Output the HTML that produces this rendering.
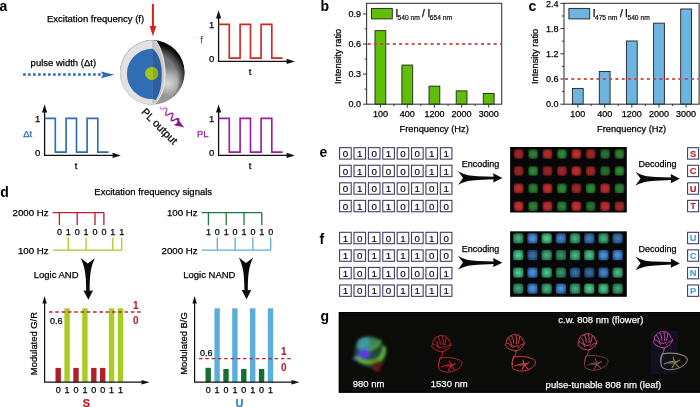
<!DOCTYPE html>
<html><head><meta charset="utf-8">
<style>
html,body{margin:0;padding:0;background:#fff;}
body{width:700px;height:407px;overflow:hidden;}
svg{display:block;will-change:transform;}
text{font-family:"Liberation Sans",sans-serif;fill:#000;stroke:#000;stroke-width:0.25px;}
.lbl{font-size:14px;font-weight:bold;fill:#000;stroke:none;}
.t9{font-size:9px;}
.t93{font-size:9.3px;}
.t94{font-size:9.4px;}
.t95{font-size:9.5px;}
.t96{font-size:9.7px;}
.t105{font-size:10.8px;}
.t11{font-size:11.5px;}
.sub{font-size:8px;stroke-width:0.2px;}
.t10r{font-size:10px;}
.tbx{font-size:9.8px;stroke-width:0.15px;}
.t10{font-size:10px;font-weight:bold;stroke-width:0.05px;}
.t10b{font-size:10px;font-weight:bold;}
.t9b{font-size:9.4px;font-weight:bold;stroke-width:0.15px;}
.t11b{font-size:11px;font-weight:bold;}
.tw{font-size:9.5px;fill:#f4f4f4;stroke:#f4f4f4;}
.bx{fill:#fff;stroke:#36365f;stroke-width:1.05;}
</style></head>
<body>
<svg width="700" height="407" viewBox="0 0 700 407">
<defs>
<filter id="blur1" x="-5%" y="-5%" width="110%" height="110%"><feGaussianBlur stdDeviation="0.7"/></filter>
<radialGradient id="gR"><stop offset="0" stop-color="#c43232"/><stop offset="0.7" stop-color="#b02a2a"/><stop offset="1" stop-color="#801c1c"/></radialGradient>
<radialGradient id="gG"><stop offset="0" stop-color="#389c40"/><stop offset="0.7" stop-color="#2a8432"/><stop offset="1" stop-color="#1a5c20"/></radialGradient>
<radialGradient id="gG2"><stop offset="0" stop-color="#5ccca4"/><stop offset="0.65" stop-color="#3aaa74"/><stop offset="1" stop-color="#247a50"/></radialGradient>
<radialGradient id="gB"><stop offset="0" stop-color="#5898d8"/><stop offset="0.65" stop-color="#3a78be"/><stop offset="1" stop-color="#22528a"/></radialGradient>
<filter id="blur2" x="-40%" y="-40%" width="180%" height="180%"><feGaussianBlur stdDeviation="1.4"/></filter>
<filter id="blur3" x="-20%" y="-20%" width="140%" height="140%"><feGaussianBlur stdDeviation="0.35"/></filter>
</defs>
<rect width="700" height="407" fill="#fff"/>
<text class="lbl" x="-0.6" y="10.7">a</text>
<text class="t95" x="47" y="22.3">Excitation frequency (f)</text>
<rect x="151.9" y="3.9" width="2" height="23" fill="#d42218"/>
<polygon points="149.6,26.1 156.3,26.1 152.9,36.3" fill="#d42218"/>
<text class="t95" x="30.6" y="66.3">pulse width (&#916;t)</text>
<line x1="23.1" y1="74.5" x2="101.5" y2="74.5" stroke="#2a6bb5" stroke-width="2.3" stroke-dasharray="2.6 2.4"/>
<path d="M100.8,71.4 L114.4,74.8 L100.8,78.2 L103,74.8 Z" fill="#2a6bb5"/>
<defs>
<clipPath id="sclip"><circle cx="152.3" cy="72.5" r="32.3"/></clipPath>
<radialGradient id="shl" gradientUnits="userSpaceOnUse" cx="169" cy="82" r="17" fx="168" fy="84">
<stop offset="0" stop-color="#dadada" stop-opacity="1"/><stop offset="0.5" stop-color="#bcbcbc" stop-opacity="0.8"/><stop offset="1" stop-color="#999" stop-opacity="0"/></radialGradient>
<linearGradient id="sbase" gradientUnits="userSpaceOnUse" x1="0" y1="40" x2="0" y2="105"><stop offset="0" stop-color="#5a5a5a"/><stop offset="0.5" stop-color="#808080"/><stop offset="1" stop-color="#9c9c9c"/></linearGradient>
<radialGradient id="srim" gradientUnits="userSpaceOnUse" cx="150" cy="80" r="37">
<stop offset="0.74" stop-color="#000" stop-opacity="0"/><stop offset="0.9" stop-color="#000" stop-opacity="0.5"/><stop offset="1" stop-color="#000" stop-opacity="0.92"/></radialGradient>
</defs>
<g clip-path="url(#sclip)">
<rect x="118" y="38" width="70" height="70" fill="url(#sbase)"/>
<rect x="118" y="38" width="70" height="70" fill="url(#shl)"/>
<rect x="118" y="38" width="70" height="70" fill="url(#srim)"/>
<path d="M152.9,38 L155.6,40.3 C160,46 164.6,58 165,72 C165.2,86 162.4,97 153.6,105 L152.9,106 Z" fill="#c9c9c9"/>
<path d="M155.6,40.3 C160,46 164.6,58 165,72 C165.2,86 162.4,97 153.6,105" fill="none" stroke="#f2f2f2" stroke-width="1"/>
<rect x="118" y="38" width="34.9" height="70" fill="#e2e2e2"/>
</g>
<path d="M152.9,40.2 A32.3,32.3 0 0 0 152.9,104.8" fill="none" stroke="#cdcdcd" stroke-width="0.8"/>
<line x1="152.9" y1="40.4" x2="152.9" y2="104.6" stroke="#bdbdbd" stroke-width="0.6"/>
<path d="M152.9,48.7 C139,48.7 127,59 127,73.9 C127,89 139,99.1 152.9,99.1 Z" fill="#2f6db5"/>
<path d="M152.6,48.7 C158.5,53 161.8,63 161.8,74 C161.8,86 159.5,95 155.5,100 L152.6,99.1 Z" fill="#2a609f"/>
<circle cx="151.6" cy="73.4" r="6.5" fill="#9fc51c"/>
<path d="M152.9,67.03 A6.5,6.5 0 0 1 152.9,79.77 Z" fill="#8db01a"/>
<path d="M44.6,111.5 V155.4 H114" fill="none" stroke="#111" stroke-width="1.3"/>
<polygon points="42,112.6 47.2,112.6 44.6,104.2" fill="#111"/>
<polygon points="112.6,152.8 112.6,158 120.9,155.4" fill="#111"/>
<path d="M44.6,118.4 L55.3,118.4 L55.3,152.1 L66.1,152.1 L66.1,118.4 L76.5,118.4 L76.5,152.1 L87.1,152.1 L87.1,118.4 L97.8,118.4 L97.8,152.1 L108.6,152.1" fill="none" stroke="#2e6db4" stroke-width="1.65"/>
<text class="t95" text-anchor="middle" x="37.6" y="122.4">1</text>
<text class="t95" text-anchor="middle" x="37.6" y="155.9">0</text>
<text class="t95" text-anchor="middle" x="76" y="168.8">t</text>
<text class="t95" text-anchor="middle" x="27.7" y="137.4" style="fill:#2e6db4;stroke:#2e6db4">&#916;t</text>
<path d="M218.6,17.5 V61.4 H288" fill="none" stroke="#111" stroke-width="1.3"/>
<polygon points="216,18.6 221.2,18.6 218.6,10.2" fill="#111"/>
<polygon points="286.6,58.8 286.6,64 294.9,61.4" fill="#111"/>
<path d="M218.6,24.4 L229.3,24.4 L229.3,58.1 L240.1,58.1 L240.1,24.4 L250.5,24.4 L250.5,58.1 L261.1,58.1 L261.1,24.4 L271.8,24.4 L271.8,58.1 L282.6,58.1" fill="none" stroke="#cc2a22" stroke-width="1.65"/>
<text class="t95" text-anchor="middle" x="211.6" y="28.4">1</text>
<text class="t95" text-anchor="middle" x="211.6" y="61.9">0</text>
<text class="t95" text-anchor="middle" x="250" y="74.8">t</text>
<text class="t95" text-anchor="middle" x="201.6" y="43.4" style="fill:#cc2a22;stroke:#cc2a22">f</text>
<path d="M218.6,111.5 V155.4 H288" fill="none" stroke="#111" stroke-width="1.3"/>
<polygon points="216,112.6 221.2,112.6 218.6,104.2" fill="#111"/>
<polygon points="286.6,152.8 286.6,158 294.9,155.4" fill="#111"/>
<path d="M218.6,118.4 L229.3,118.4 L229.3,152.1 L240.1,152.1 L240.1,118.4 L250.5,118.4 L250.5,152.1 L261.1,152.1 L261.1,118.4 L271.8,118.4 L271.8,152.1 L282.6,152.1" fill="none" stroke="#9a1fa0" stroke-width="1.65"/>
<text class="t95" text-anchor="middle" x="211.6" y="122.4">1</text>
<text class="t95" text-anchor="middle" x="211.6" y="155.9">0</text>
<text class="t95" text-anchor="middle" x="250" y="168.8">t</text>
<text class="t95" text-anchor="middle" x="202.7" y="137.4" style="fill:#9a1fa0;stroke:#9a1fa0">PL</text>
<text class="t105" transform="translate(140.7,112.6) rotate(45)" x="0" y="0">PL output</text>
<defs><linearGradient id="sqg" gradientUnits="userSpaceOnUse" x1="160" y1="106" x2="176" y2="121"><stop offset="0" stop-color="#e6b8e6"/><stop offset="0.5" stop-color="#a544a8"/><stop offset="1" stop-color="#8a1a90"/></linearGradient></defs>
<path d="M160.5,106 L160.42,106.7 L160.37,107.37 L160.38,107.98 L160.5,108.48 L160.74,108.83 L161.14,109.03 L161.68,109.08 L162.34,109 L163.09,108.82 L163.89,108.59 L164.67,108.38 L165.39,108.24 L165.99,108.23 L166.43,108.38 L166.69,108.72 L166.77,109.25 L166.69,109.95 L166.49,110.79 L166.21,111.7 L165.93,112.62 L165.7,113.47 L165.61,114.19 L165.69,114.72 L165.98,115.03 L166.48,115.12 L167.19,114.98 L168.07,114.68 L169.05,114.26 L170.04,113.83 L170.96,113.47 L171.75,113.25 L172.35,113.23 L172.73,113.45 L172.88,113.91 L172.82,114.59 L172.59,115.45 L172.25,116.43 L171.87,117.45 L171.53,118.42 L171.3,119.29 L171.24,119.97 L171.39,120.43 L171.77,120.64 L172.37,120.62 L173.16,120.41 L174.09,120.05 L175.08,119.62 L176.06,119.2 L176.96,118.87 L177.7,118.7 L178.25,118.73 L178.57,119.01 L178.67,119.53 L178.56,120.26 L178.3,121.16 L177.94,122.15 L177.56,123.17 L177.24,124.12 L177.05,124.94 L177.04,125.57" fill="none" stroke="url(#sqg)" stroke-width="1.6"/>
<path d="M177.6,118.6 L184.2,127.4 L173.4,125.0 L177.6,123.0 Z" fill="#8a1a90"/>
<text class="lbl" x="320.6" y="10.8">b</text>
<rect x="375" y="30.66" width="10.8" height="73.54" fill="#5fbf06" stroke="#222" stroke-width="0.9"/>
<rect x="401.9" y="65.07" width="10.8" height="39.13" fill="#5fbf06" stroke="#222" stroke-width="0.9"/>
<rect x="429" y="86.14" width="10.8" height="18.06" fill="#5fbf06" stroke="#222" stroke-width="0.9"/>
<rect x="456.2" y="90.86" width="10.8" height="13.34" fill="#5fbf06" stroke="#222" stroke-width="0.9"/>
<rect x="483.3" y="93.46" width="10.8" height="10.74" fill="#5fbf06" stroke="#222" stroke-width="0.9"/>
<rect x="366.6" y="3.3" width="135.1" height="100.9" fill="none" stroke="#3a3a3a" stroke-width="1.1"/>
<line x1="363" y1="104.2" x2="366.6" y2="104.2" stroke="#333" stroke-width="1"/>
<text class="t9" text-anchor="end" x="361" y="107.4">0.0</text>
<line x1="364.6" y1="89.15" x2="366.6" y2="89.15" stroke="#333" stroke-width="1"/>
<line x1="363" y1="74.1" x2="366.6" y2="74.1" stroke="#333" stroke-width="1"/>
<text class="t9" text-anchor="end" x="361" y="77.3">0.3</text>
<line x1="364.6" y1="59.05" x2="366.6" y2="59.05" stroke="#333" stroke-width="1"/>
<line x1="363" y1="44" x2="366.6" y2="44" stroke="#333" stroke-width="1"/>
<text class="t9" text-anchor="end" x="361" y="47.2">0.6</text>
<line x1="364.6" y1="28.95" x2="366.6" y2="28.95" stroke="#333" stroke-width="1"/>
<line x1="363" y1="13.9" x2="366.6" y2="13.9" stroke="#333" stroke-width="1"/>
<text class="t9" text-anchor="end" x="361" y="17.1">0.9</text>
<line x1="380.4" y1="104.2" x2="380.4" y2="107.6" stroke="#333" stroke-width="1"/>
<text class="t9" text-anchor="middle" x="380.4" y="117.3">100</text>
<line x1="393.85" y1="104.2" x2="393.85" y2="106" stroke="#333" stroke-width="1"/>
<line x1="407.3" y1="104.2" x2="407.3" y2="107.6" stroke="#333" stroke-width="1"/>
<text class="t9" text-anchor="middle" x="407.3" y="117.3">400</text>
<line x1="420.85" y1="104.2" x2="420.85" y2="106" stroke="#333" stroke-width="1"/>
<line x1="434.4" y1="104.2" x2="434.4" y2="107.6" stroke="#333" stroke-width="1"/>
<text class="t9" text-anchor="middle" x="434.4" y="117.3">1200</text>
<line x1="448" y1="104.2" x2="448" y2="106" stroke="#333" stroke-width="1"/>
<line x1="461.6" y1="104.2" x2="461.6" y2="107.6" stroke="#333" stroke-width="1"/>
<text class="t9" text-anchor="middle" x="461.6" y="117.3">2000</text>
<line x1="475.15" y1="104.2" x2="475.15" y2="106" stroke="#333" stroke-width="1"/>
<line x1="488.7" y1="104.2" x2="488.7" y2="107.6" stroke="#333" stroke-width="1"/>
<text class="t9" text-anchor="middle" x="488.7" y="117.3">3000</text>
<line x1="367.6" y1="44" x2="501.2" y2="44" stroke="#c84646" stroke-width="1.8" stroke-dasharray="3 3.3" opacity="0.9"/>
<rect x="371.5" y="8.4" width="20.8" height="10.5" fill="#5fbf06" stroke="#222" stroke-width="0.9"/>
<text class="t10r" x="395.4" y="17">I</text>
<text class="sub" transform="translate(397.5,20) scale(0.84,1)">540 nm</text>
<text class="t10r" x="422" y="17">/</text>
<text class="t10r" x="427.4" y="17">I</text>
<text class="sub" transform="translate(429.7,20) scale(0.84,1)">654 nm</text>
<text class="t93" text-anchor="middle" transform="translate(340.8,56.4) rotate(-90)" x="0" y="0">Intensity ratio</text>
<text class="t93" text-anchor="middle" x="434.2" y="132.3">Frenquency (Hz)</text>
<text class="lbl" x="528.6" y="11.1">c</text>
<rect x="572.4" y="88.41" width="10.8" height="15.79" fill="#6db4e1" stroke="#222" stroke-width="0.9"/>
<rect x="599.3" y="71.44" width="10.8" height="32.76" fill="#6db4e1" stroke="#222" stroke-width="0.9"/>
<rect x="626.4" y="40.99" width="10.8" height="63.21" fill="#6db4e1" stroke="#222" stroke-width="0.9"/>
<rect x="653.6" y="23.14" width="10.8" height="81.06" fill="#6db4e1" stroke="#222" stroke-width="0.9"/>
<rect x="680.7" y="8.99" width="10.8" height="95.21" fill="#6db4e1" stroke="#222" stroke-width="0.9"/>
<rect x="564" y="3.3" width="135.1" height="100.9" fill="none" stroke="#3a3a3a" stroke-width="1.1"/>
<line x1="560.4" y1="104.2" x2="564" y2="104.2" stroke="#333" stroke-width="1"/>
<text class="t9" text-anchor="end" x="558.4" y="107.4">0.0</text>
<line x1="562" y1="91.6" x2="564" y2="91.6" stroke="#333" stroke-width="1"/>
<line x1="560.4" y1="79" x2="564" y2="79" stroke="#333" stroke-width="1"/>
<text class="t9" text-anchor="end" x="558.4" y="82.2">0.6</text>
<line x1="562" y1="66.4" x2="564" y2="66.4" stroke="#333" stroke-width="1"/>
<line x1="560.4" y1="53.8" x2="564" y2="53.8" stroke="#333" stroke-width="1"/>
<text class="t9" text-anchor="end" x="558.4" y="57">1.2</text>
<line x1="562" y1="41.2" x2="564" y2="41.2" stroke="#333" stroke-width="1"/>
<line x1="560.4" y1="28.6" x2="564" y2="28.6" stroke="#333" stroke-width="1"/>
<text class="t9" text-anchor="end" x="558.4" y="31.8">1.8</text>
<line x1="562" y1="16" x2="564" y2="16" stroke="#333" stroke-width="1"/>
<line x1="560.4" y1="3.4" x2="564" y2="3.4" stroke="#333" stroke-width="1"/>
<text class="t9" text-anchor="end" x="558.4" y="6.6">2.4</text>
<line x1="577.8" y1="104.2" x2="577.8" y2="107.6" stroke="#333" stroke-width="1"/>
<text class="t9" text-anchor="middle" x="577.8" y="117.3">100</text>
<line x1="591.25" y1="104.2" x2="591.25" y2="106" stroke="#333" stroke-width="1"/>
<line x1="604.7" y1="104.2" x2="604.7" y2="107.6" stroke="#333" stroke-width="1"/>
<text class="t9" text-anchor="middle" x="604.7" y="117.3">400</text>
<line x1="618.25" y1="104.2" x2="618.25" y2="106" stroke="#333" stroke-width="1"/>
<line x1="631.8" y1="104.2" x2="631.8" y2="107.6" stroke="#333" stroke-width="1"/>
<text class="t9" text-anchor="middle" x="631.8" y="117.3">1200</text>
<line x1="645.4" y1="104.2" x2="645.4" y2="106" stroke="#333" stroke-width="1"/>
<line x1="659" y1="104.2" x2="659" y2="107.6" stroke="#333" stroke-width="1"/>
<text class="t9" text-anchor="middle" x="659" y="117.3">2000</text>
<line x1="672.55" y1="104.2" x2="672.55" y2="106" stroke="#333" stroke-width="1"/>
<line x1="686.1" y1="104.2" x2="686.1" y2="107.6" stroke="#333" stroke-width="1"/>
<text class="t9" text-anchor="middle" x="686.1" y="117.3">3000</text>
<line x1="565" y1="79" x2="698.6" y2="79" stroke="#c84646" stroke-width="1.8" stroke-dasharray="3 3.3" opacity="0.9"/>
<rect x="568.9" y="8.4" width="20.8" height="10.5" fill="#6db4e1" stroke="#222" stroke-width="0.9"/>
<text class="t10r" x="592.8" y="17">I</text>
<text class="sub" transform="translate(594.9,20) scale(0.84,1)">475 nm</text>
<text class="t10r" x="619.9" y="17">/</text>
<text class="t10r" x="625.1" y="17">I</text>
<text class="sub" transform="translate(627.4,20) scale(0.84,1)">540 nm</text>
<text class="t93" text-anchor="middle" transform="translate(537.6,56.4) rotate(-90)" x="0" y="0">Intensity ratio</text>
<text class="t93" text-anchor="middle" x="631.6" y="132.3">Frenquency (Hz)</text>
<text class="lbl" x="0.3" y="197.3">d</text>
<text class="t95" text-anchor="middle" x="153.2" y="194.9">Excitation frequency signals</text>
<text class="t96" text-anchor="end" x="48.6" y="215.9">2000 Hz</text>
<text class="t96" text-anchor="end" x="48.6" y="253.5">100 Hz</text>
<path d="M52.6,212.6 H103.9 M59.4,212.6 V225.3 M77.2,212.6 V225.3 M95,212.6 V225.3 M103.9,212.6 V225.3" fill="none" stroke="#b8202a" stroke-width="1.3"/>
<path d="M52.6,250.2 H121.7 M68.3,250.2 V237.6 M86.1,250.2 V237.6 M112.8,250.2 V237.6 M121.7,250.2 V237.6" fill="none" stroke="#a8cc22" stroke-width="1.3"/>
<text class="t9" text-anchor="middle" x="59.4" y="235.2">0</text>
<text class="t9" text-anchor="middle" x="68.3" y="235.2">1</text>
<text class="t9" text-anchor="middle" x="77.2" y="235.2">0</text>
<text class="t9" text-anchor="middle" x="86.1" y="235.2">1</text>
<text class="t9" text-anchor="middle" x="95" y="235.2">0</text>
<text class="t9" text-anchor="middle" x="103.9" y="235.2">0</text>
<text class="t9" text-anchor="middle" x="112.8" y="235.2">1</text>
<text class="t9" text-anchor="middle" x="121.7" y="235.2">1</text>
<text class="t96" text-anchor="end" x="197.6" y="215.9">100 Hz</text>
<text class="t96" text-anchor="end" x="197.6" y="253.5">2000 Hz</text>
<path d="M201.6,212.6 H261.8 M208.4,212.6 V225.3 M226.2,212.6 V225.3 M244,212.6 V225.3 M261.8,212.6 V225.3" fill="none" stroke="#1e7a3c" stroke-width="1.3"/>
<path d="M201.6,250.2 H270.7 M217.3,250.2 V237.6 M235.1,250.2 V237.6 M252.9,250.2 V237.6 M270.7,250.2 V237.6" fill="none" stroke="#5aaede" stroke-width="1.3"/>
<text class="t9" text-anchor="middle" x="208.4" y="235.2">1</text>
<text class="t9" text-anchor="middle" x="217.3" y="235.2">0</text>
<text class="t9" text-anchor="middle" x="226.2" y="235.2">1</text>
<text class="t9" text-anchor="middle" x="235.1" y="235.2">0</text>
<text class="t9" text-anchor="middle" x="244" y="235.2">1</text>
<text class="t9" text-anchor="middle" x="252.9" y="235.2">0</text>
<text class="t9" text-anchor="middle" x="261.8" y="235.2">1</text>
<text class="t9" text-anchor="middle" x="270.7" y="235.2">0</text>
<path d="M80.6,258 L87.8,263.4 L95,258 C91,266 89.6,274 89.6,290.8 L93,290.5 L88.4,299.8 L83.4,290.5 L86.2,290.8 C86.2,274 84.6,266 80.6,258 Z" fill="#0a0a0a"/>
<path d="M238.8,257.5 L246,262.9 L253.2,257.5 C249.2,265.5 247.8,273.5 247.8,290.2 L251.2,289.9 L246.6,299.2 L241.6,289.9 L244.4,290.2 C244.4,273.5 242.8,265.5 238.8,257.5 Z" fill="#0a0a0a"/>
<text class="t95" x="33.7" y="278.2">Logic AND</text>
<text class="t95" x="183.2" y="278.2">Logic NAND</text>
<rect x="55.5" y="367.9" width="5.4" height="14.3" fill="#b0202a"/>
<text class="t9" text-anchor="middle" x="58.2" y="393.1">0</text>
<rect x="64.4" y="308.3" width="5.4" height="73.9" fill="#a8cc22"/>
<text class="t9" text-anchor="middle" x="67.1" y="393.1">1</text>
<rect x="73.3" y="367.9" width="5.4" height="14.3" fill="#b0202a"/>
<text class="t9" text-anchor="middle" x="76" y="393.1">0</text>
<rect x="82.2" y="308.3" width="5.4" height="73.9" fill="#a8cc22"/>
<text class="t9" text-anchor="middle" x="84.9" y="393.1">1</text>
<rect x="91.1" y="367.9" width="5.4" height="14.3" fill="#b0202a"/>
<text class="t9" text-anchor="middle" x="93.8" y="393.1">0</text>
<rect x="100" y="367.9" width="5.4" height="14.3" fill="#b0202a"/>
<text class="t9" text-anchor="middle" x="102.7" y="393.1">0</text>
<rect x="108.9" y="308.3" width="5.4" height="73.9" fill="#a8cc22"/>
<text class="t9" text-anchor="middle" x="111.6" y="393.1">1</text>
<rect x="117.8" y="308.3" width="5.4" height="73.9" fill="#a8cc22"/>
<text class="t9" text-anchor="middle" x="120.5" y="393.1">1</text>
<path d="M44.6,303 V382.2 H142" fill="none" stroke="#111" stroke-width="1.2"/>
<polygon points="42.4,303.6 46.8,303.6 44.6,296.0" fill="#111"/>
<polygon points="141.5,380.0 141.5,384.4 149.6,382.2" fill="#111"/>
<line x1="49" y1="312" x2="141" y2="312" stroke="#b8262e" stroke-width="1.3" stroke-dasharray="3.5 2.8"/>
<text class="t9" x="50" y="324.4">0.6</text>
<text class="t10" text-anchor="middle" x="135.9" y="309.4" style="fill:#b0202a;stroke:#b0202a">1</text>
<text class="t10" text-anchor="middle" x="135.9" y="323.8" style="fill:#b0202a;stroke:#b0202a">0</text>
<text class="t11b" text-anchor="middle" x="86.4" y="406.6" style="fill:#c0222a;stroke:#c0222a">S</text>
<text class="t94" text-anchor="middle" transform="translate(36.6,343.6) rotate(-90)" x="0" y="0">Modulated G/R</text>
<rect x="205.5" y="367.8" width="5.4" height="14.4" fill="#146e34"/>
<text class="t9" text-anchor="middle" x="208.2" y="393.1">0</text>
<rect x="214.4" y="308.3" width="5.4" height="73.9" fill="#5aaede"/>
<text class="t9" text-anchor="middle" x="217.1" y="393.1">1</text>
<rect x="223.3" y="369" width="5.4" height="13.2" fill="#146e34"/>
<text class="t9" text-anchor="middle" x="226" y="393.1">0</text>
<rect x="232.2" y="308.3" width="5.4" height="73.9" fill="#5aaede"/>
<text class="t9" text-anchor="middle" x="234.9" y="393.1">1</text>
<rect x="241.1" y="369" width="5.4" height="13.2" fill="#146e34"/>
<text class="t9" text-anchor="middle" x="243.8" y="393.1">0</text>
<rect x="250" y="308.3" width="5.4" height="73.9" fill="#5aaede"/>
<text class="t9" text-anchor="middle" x="252.7" y="393.1">1</text>
<rect x="258.9" y="369" width="5.4" height="13.2" fill="#146e34"/>
<text class="t9" text-anchor="middle" x="261.6" y="393.1">0</text>
<rect x="267.8" y="308.3" width="5.4" height="73.9" fill="#5aaede"/>
<text class="t9" text-anchor="middle" x="270.5" y="393.1">1</text>
<path d="M194.6,303 V382.2 H292" fill="none" stroke="#111" stroke-width="1.2"/>
<polygon points="192.4,303.6 196.8,303.6 194.6,296.0" fill="#111"/>
<polygon points="291.5,380.0 291.5,384.4 299.6,382.2" fill="#111"/>
<line x1="199" y1="358.6" x2="291" y2="358.6" stroke="#b8262e" stroke-width="1.3" stroke-dasharray="3.5 2.8"/>
<text class="t9" x="200" y="355.7">0.6</text>
<text class="t10" text-anchor="middle" x="283.9" y="355.4" style="fill:#b0202a;stroke:#b0202a">1</text>
<text class="t10" text-anchor="middle" x="283.9" y="371.2" style="fill:#b0202a;stroke:#b0202a">0</text>
<text class="t11b" text-anchor="middle" x="239.4" y="406.6" style="fill:#2d7fc4;stroke:#2d7fc4">U</text>
<text class="t94" text-anchor="middle" transform="translate(186.6,343.6) rotate(-90)" x="0" y="0">Modulated B/G</text>
<text class="lbl" x="319.6" y="156.7">e</text>
<rect class="bx" x="339.6" y="147.7" width="11.6" height="11.4"/>
<text class="tbx" text-anchor="middle" x="345.4" y="157.2">0</text>
<rect class="bx" x="353.99" y="147.7" width="11.6" height="11.4"/>
<text class="tbx" text-anchor="middle" x="359.79" y="157.2">1</text>
<rect class="bx" x="368.38" y="147.7" width="11.6" height="11.4"/>
<text class="tbx" text-anchor="middle" x="374.18" y="157.2">0</text>
<rect class="bx" x="382.77" y="147.7" width="11.6" height="11.4"/>
<text class="tbx" text-anchor="middle" x="388.57" y="157.2">1</text>
<rect class="bx" x="397.16" y="147.7" width="11.6" height="11.4"/>
<text class="tbx" text-anchor="middle" x="402.96" y="157.2">0</text>
<rect class="bx" x="411.55" y="147.7" width="11.6" height="11.4"/>
<text class="tbx" text-anchor="middle" x="417.35" y="157.2">0</text>
<rect class="bx" x="425.94" y="147.7" width="11.6" height="11.4"/>
<text class="tbx" text-anchor="middle" x="431.74" y="157.2">1</text>
<rect class="bx" x="440.33" y="147.7" width="11.6" height="11.4"/>
<text class="tbx" text-anchor="middle" x="446.13" y="157.2">1</text>
<rect class="bx" x="339.6" y="165.25" width="11.6" height="11.4"/>
<text class="tbx" text-anchor="middle" x="345.4" y="174.75">0</text>
<rect class="bx" x="353.99" y="165.25" width="11.6" height="11.4"/>
<text class="tbx" text-anchor="middle" x="359.79" y="174.75">1</text>
<rect class="bx" x="368.38" y="165.25" width="11.6" height="11.4"/>
<text class="tbx" text-anchor="middle" x="374.18" y="174.75">0</text>
<rect class="bx" x="382.77" y="165.25" width="11.6" height="11.4"/>
<text class="tbx" text-anchor="middle" x="388.57" y="174.75">0</text>
<rect class="bx" x="397.16" y="165.25" width="11.6" height="11.4"/>
<text class="tbx" text-anchor="middle" x="402.96" y="174.75">0</text>
<rect class="bx" x="411.55" y="165.25" width="11.6" height="11.4"/>
<text class="tbx" text-anchor="middle" x="417.35" y="174.75">0</text>
<rect class="bx" x="425.94" y="165.25" width="11.6" height="11.4"/>
<text class="tbx" text-anchor="middle" x="431.74" y="174.75">1</text>
<rect class="bx" x="440.33" y="165.25" width="11.6" height="11.4"/>
<text class="tbx" text-anchor="middle" x="446.13" y="174.75">1</text>
<rect class="bx" x="339.6" y="182.8" width="11.6" height="11.4"/>
<text class="tbx" text-anchor="middle" x="345.4" y="192.3">0</text>
<rect class="bx" x="353.99" y="182.8" width="11.6" height="11.4"/>
<text class="tbx" text-anchor="middle" x="359.79" y="192.3">1</text>
<rect class="bx" x="368.38" y="182.8" width="11.6" height="11.4"/>
<text class="tbx" text-anchor="middle" x="374.18" y="192.3">0</text>
<rect class="bx" x="382.77" y="182.8" width="11.6" height="11.4"/>
<text class="tbx" text-anchor="middle" x="388.57" y="192.3">1</text>
<rect class="bx" x="397.16" y="182.8" width="11.6" height="11.4"/>
<text class="tbx" text-anchor="middle" x="402.96" y="192.3">0</text>
<rect class="bx" x="411.55" y="182.8" width="11.6" height="11.4"/>
<text class="tbx" text-anchor="middle" x="417.35" y="192.3">1</text>
<rect class="bx" x="425.94" y="182.8" width="11.6" height="11.4"/>
<text class="tbx" text-anchor="middle" x="431.74" y="192.3">0</text>
<rect class="bx" x="440.33" y="182.8" width="11.6" height="11.4"/>
<text class="tbx" text-anchor="middle" x="446.13" y="192.3">1</text>
<rect class="bx" x="339.6" y="200.35" width="11.6" height="11.4"/>
<text class="tbx" text-anchor="middle" x="345.4" y="209.85">0</text>
<rect class="bx" x="353.99" y="200.35" width="11.6" height="11.4"/>
<text class="tbx" text-anchor="middle" x="359.79" y="209.85">1</text>
<rect class="bx" x="368.38" y="200.35" width="11.6" height="11.4"/>
<text class="tbx" text-anchor="middle" x="374.18" y="209.85">0</text>
<rect class="bx" x="382.77" y="200.35" width="11.6" height="11.4"/>
<text class="tbx" text-anchor="middle" x="388.57" y="209.85">1</text>
<rect class="bx" x="397.16" y="200.35" width="11.6" height="11.4"/>
<text class="tbx" text-anchor="middle" x="402.96" y="209.85">0</text>
<rect class="bx" x="411.55" y="200.35" width="11.6" height="11.4"/>
<text class="tbx" text-anchor="middle" x="417.35" y="209.85">1</text>
<rect class="bx" x="425.94" y="200.35" width="11.6" height="11.4"/>
<text class="tbx" text-anchor="middle" x="431.74" y="209.85">0</text>
<rect class="bx" x="440.33" y="200.35" width="11.6" height="11.4"/>
<text class="tbx" text-anchor="middle" x="446.13" y="209.85">0</text>
<text class="t9" x="461.8" y="166.9">Encoding</text>
<path d="M458,171.1 C464,175.1 470,176.1 478,176.3 L493.5,176.8 L493.2,173.3 L502.4,178.1 L493.2,182.5 L493.5,179.3 L478,180.1 C470,180.5 464,181.5 458,184.9 L463,177.9 Z" fill="#0a0a0a"/>
<text class="t9" x="638.6" y="166.9">Decoding</text>
<path d="M635.5,171.8 C641.5,175.8 647.5,176.8 655.5,177 L671,177.5 L670.7,174 L679.9,178.8 L670.7,183.2 L671,180 L655.5,180.8 C647.5,181.2 641.5,182.2 635.5,185.6 L640.5,178.6 Z" fill="#0a0a0a"/>
<rect x="510.1" y="147" width="116.7" height="65.5" fill="#070707"/>
<g filter="url(#blur1)">
<rect x="513.9" y="149.2" width="9.6" height="9.6" rx="2.2" fill="url(#gR)" opacity="0.8"/>
<rect x="528.3" y="149.2" width="9.6" height="9.6" rx="2.2" fill="url(#gG)" opacity="0.85"/>
<rect x="542.7" y="149.2" width="9.6" height="9.6" rx="2.2" fill="url(#gR)" opacity="0.9"/>
<rect x="557.1" y="149.2" width="9.6" height="9.6" rx="2.2" fill="url(#gG)" opacity="0.9"/>
<rect x="571.5" y="149.2" width="9.6" height="9.6" rx="2.2" fill="url(#gR)" opacity="1"/>
<rect x="585.9" y="149.2" width="9.6" height="9.6" rx="2.2" fill="url(#gR)" opacity="0.8"/>
<rect x="600.3" y="149.2" width="9.6" height="9.6" rx="2.2" fill="url(#gG)" opacity="0.75"/>
<rect x="614.7" y="149.2" width="9.6" height="9.6" rx="2.2" fill="url(#gG)" opacity="0.85"/>
<rect x="513.9" y="166.2" width="9.6" height="9.6" rx="2.2" fill="url(#gR)" opacity="0.75"/>
<rect x="528.3" y="166.2" width="9.6" height="9.6" rx="2.2" fill="url(#gG)" opacity="0.9"/>
<rect x="542.7" y="166.2" width="9.6" height="9.6" rx="2.2" fill="url(#gR)" opacity="0.75"/>
<rect x="557.1" y="166.2" width="9.6" height="9.6" rx="2.2" fill="url(#gR)" opacity="0.8"/>
<rect x="571.5" y="166.2" width="9.6" height="9.6" rx="2.2" fill="url(#gR)" opacity="0.95"/>
<rect x="585.9" y="166.2" width="9.6" height="9.6" rx="2.2" fill="url(#gR)" opacity="0.8"/>
<rect x="600.3" y="166.2" width="9.6" height="9.6" rx="2.2" fill="url(#gG)" opacity="0.75"/>
<rect x="614.7" y="166.2" width="9.6" height="9.6" rx="2.2" fill="url(#gG)" opacity="0.9"/>
<rect x="513.9" y="183.6" width="9.6" height="9.6" rx="2.2" fill="url(#gR)" opacity="0.95"/>
<rect x="528.3" y="183.6" width="9.6" height="9.6" rx="2.2" fill="url(#gG)" opacity="0.85"/>
<rect x="542.7" y="183.6" width="9.6" height="9.6" rx="2.2" fill="url(#gR)" opacity="1"/>
<rect x="557.1" y="183.6" width="9.6" height="9.6" rx="2.2" fill="url(#gG)" opacity="0.9"/>
<rect x="571.5" y="183.6" width="9.6" height="9.6" rx="2.2" fill="url(#gR)" opacity="0.8"/>
<rect x="585.9" y="183.6" width="9.6" height="9.6" rx="2.2" fill="url(#gG)" opacity="0.9"/>
<rect x="600.3" y="183.6" width="9.6" height="9.6" rx="2.2" fill="url(#gR)" opacity="0.95"/>
<rect x="614.7" y="183.6" width="9.6" height="9.6" rx="2.2" fill="url(#gG)" opacity="0.85"/>
<rect x="513.9" y="201.4" width="9.6" height="9.6" rx="2.2" fill="url(#gR)" opacity="1"/>
<rect x="528.3" y="201.4" width="9.6" height="9.6" rx="2.2" fill="url(#gG)" opacity="0.85"/>
<rect x="542.7" y="201.4" width="9.6" height="9.6" rx="2.2" fill="url(#gR)" opacity="0.95"/>
<rect x="557.1" y="201.4" width="9.6" height="9.6" rx="2.2" fill="url(#gG)" opacity="0.85"/>
<rect x="571.5" y="201.4" width="9.6" height="9.6" rx="2.2" fill="url(#gR)" opacity="1"/>
<rect x="585.9" y="201.4" width="9.6" height="9.6" rx="2.2" fill="url(#gG)" opacity="0.75"/>
<rect x="600.3" y="201.4" width="9.6" height="9.6" rx="2.2" fill="url(#gR)" opacity="0.95"/>
<rect x="614.7" y="201.4" width="9.6" height="9.6" rx="2.2" fill="url(#gR)" opacity="0.85"/>
</g>
<rect class="bx" x="687.6" y="147.7" width="11.0" height="11.4"/>
<text class="t9b" text-anchor="middle" x="693.2" y="156.5" style="fill:#c0222a;stroke:#c0222a">S</text>
<rect class="bx" x="687.6" y="165.25" width="11.0" height="11.4"/>
<text class="t9b" text-anchor="middle" x="693.2" y="174.05" style="fill:#c0222a;stroke:#c0222a">C</text>
<rect class="bx" x="687.6" y="182.8" width="11.0" height="11.4"/>
<text class="t9b" text-anchor="middle" x="693.2" y="191.6" style="fill:#c0222a;stroke:#c0222a">U</text>
<rect class="bx" x="687.6" y="200.35" width="11.0" height="11.4"/>
<text class="t9b" text-anchor="middle" x="693.2" y="209.15" style="fill:#c0222a;stroke:#c0222a">T</text>
<text class="lbl" x="319.6" y="244">f</text>
<rect class="bx" x="339.6" y="232.3" width="11.6" height="11.4"/>
<text class="tbx" text-anchor="middle" x="345.4" y="241.8">1</text>
<rect class="bx" x="353.99" y="232.3" width="11.6" height="11.4"/>
<text class="tbx" text-anchor="middle" x="359.79" y="241.8">0</text>
<rect class="bx" x="368.38" y="232.3" width="11.6" height="11.4"/>
<text class="tbx" text-anchor="middle" x="374.18" y="241.8">1</text>
<rect class="bx" x="382.77" y="232.3" width="11.6" height="11.4"/>
<text class="tbx" text-anchor="middle" x="388.57" y="241.8">0</text>
<rect class="bx" x="397.16" y="232.3" width="11.6" height="11.4"/>
<text class="tbx" text-anchor="middle" x="402.96" y="241.8">1</text>
<rect class="bx" x="411.55" y="232.3" width="11.6" height="11.4"/>
<text class="tbx" text-anchor="middle" x="417.35" y="241.8">0</text>
<rect class="bx" x="425.94" y="232.3" width="11.6" height="11.4"/>
<text class="tbx" text-anchor="middle" x="431.74" y="241.8">1</text>
<rect class="bx" x="440.33" y="232.3" width="11.6" height="11.4"/>
<text class="tbx" text-anchor="middle" x="446.13" y="241.8">0</text>
<rect class="bx" x="339.6" y="249.85" width="11.6" height="11.4"/>
<text class="tbx" text-anchor="middle" x="345.4" y="259.35">1</text>
<rect class="bx" x="353.99" y="249.85" width="11.6" height="11.4"/>
<text class="tbx" text-anchor="middle" x="359.79" y="259.35">0</text>
<rect class="bx" x="368.38" y="249.85" width="11.6" height="11.4"/>
<text class="tbx" text-anchor="middle" x="374.18" y="259.35">1</text>
<rect class="bx" x="382.77" y="249.85" width="11.6" height="11.4"/>
<text class="tbx" text-anchor="middle" x="388.57" y="259.35">1</text>
<rect class="bx" x="397.16" y="249.85" width="11.6" height="11.4"/>
<text class="tbx" text-anchor="middle" x="402.96" y="259.35">1</text>
<rect class="bx" x="411.55" y="249.85" width="11.6" height="11.4"/>
<text class="tbx" text-anchor="middle" x="417.35" y="259.35">1</text>
<rect class="bx" x="425.94" y="249.85" width="11.6" height="11.4"/>
<text class="tbx" text-anchor="middle" x="431.74" y="259.35">0</text>
<rect class="bx" x="440.33" y="249.85" width="11.6" height="11.4"/>
<text class="tbx" text-anchor="middle" x="446.13" y="259.35">0</text>
<rect class="bx" x="339.6" y="267.4" width="11.6" height="11.4"/>
<text class="tbx" text-anchor="middle" x="345.4" y="276.9">1</text>
<rect class="bx" x="353.99" y="267.4" width="11.6" height="11.4"/>
<text class="tbx" text-anchor="middle" x="359.79" y="276.9">0</text>
<rect class="bx" x="368.38" y="267.4" width="11.6" height="11.4"/>
<text class="tbx" text-anchor="middle" x="374.18" y="276.9">1</text>
<rect class="bx" x="382.77" y="267.4" width="11.6" height="11.4"/>
<text class="tbx" text-anchor="middle" x="388.57" y="276.9">1</text>
<rect class="bx" x="397.16" y="267.4" width="11.6" height="11.4"/>
<text class="tbx" text-anchor="middle" x="402.96" y="276.9">0</text>
<rect class="bx" x="411.55" y="267.4" width="11.6" height="11.4"/>
<text class="tbx" text-anchor="middle" x="417.35" y="276.9">0</text>
<rect class="bx" x="425.94" y="267.4" width="11.6" height="11.4"/>
<text class="tbx" text-anchor="middle" x="431.74" y="276.9">0</text>
<rect class="bx" x="440.33" y="267.4" width="11.6" height="11.4"/>
<text class="tbx" text-anchor="middle" x="446.13" y="276.9">1</text>
<rect class="bx" x="339.6" y="284.95" width="11.6" height="11.4"/>
<text class="tbx" text-anchor="middle" x="345.4" y="294.45">1</text>
<rect class="bx" x="353.99" y="284.95" width="11.6" height="11.4"/>
<text class="tbx" text-anchor="middle" x="359.79" y="294.45">0</text>
<rect class="bx" x="368.38" y="284.95" width="11.6" height="11.4"/>
<text class="tbx" text-anchor="middle" x="374.18" y="294.45">1</text>
<rect class="bx" x="382.77" y="284.95" width="11.6" height="11.4"/>
<text class="tbx" text-anchor="middle" x="388.57" y="294.45">0</text>
<rect class="bx" x="397.16" y="284.95" width="11.6" height="11.4"/>
<text class="tbx" text-anchor="middle" x="402.96" y="294.45">1</text>
<rect class="bx" x="411.55" y="284.95" width="11.6" height="11.4"/>
<text class="tbx" text-anchor="middle" x="417.35" y="294.45">1</text>
<rect class="bx" x="425.94" y="284.95" width="11.6" height="11.4"/>
<text class="tbx" text-anchor="middle" x="431.74" y="294.45">1</text>
<rect class="bx" x="440.33" y="284.95" width="11.6" height="11.4"/>
<text class="tbx" text-anchor="middle" x="446.13" y="294.45">1</text>
<text class="t9" x="461.8" y="251.5">Encoding</text>
<path d="M458,255.7 C464,259.7 470,260.7 478,260.9 L493.5,261.4 L493.2,257.9 L502.4,262.7 L493.2,267.1 L493.5,263.9 L478,264.7 C470,265.1 464,266.1 458,269.5 L463,262.5 Z" fill="#0a0a0a"/>
<text class="t9" x="638.6" y="251.5">Decoding</text>
<path d="M635.5,256.4 C641.5,260.4 647.5,261.4 655.5,261.6 L671,262.1 L670.7,258.6 L679.9,263.4 L670.7,267.8 L671,264.6 L655.5,265.4 C647.5,265.8 641.5,266.8 635.5,270.2 L640.5,263.2 Z" fill="#0a0a0a"/>
<rect x="510.1" y="231.3" width="116.7" height="65.5" fill="#070707"/>
<g filter="url(#blur1)">
<rect x="513.15" y="233.25" width="10.3" height="10.3" rx="2.2" fill="url(#gG2)" opacity="0.85"/>
<rect x="527.35" y="233.25" width="10.3" height="10.3" rx="2.2" fill="url(#gB)" opacity="1"/>
<rect x="541.55" y="233.25" width="10.3" height="10.3" rx="2.2" fill="url(#gG2)" opacity="1"/>
<rect x="555.75" y="233.25" width="10.3" height="10.3" rx="2.2" fill="url(#gB)" opacity="0.9"/>
<rect x="569.95" y="233.25" width="10.3" height="10.3" rx="2.2" fill="url(#gG2)" opacity="0.85"/>
<rect x="584.15" y="233.25" width="10.3" height="10.3" rx="2.2" fill="url(#gB)" opacity="0.85"/>
<rect x="598.35" y="233.25" width="10.3" height="10.3" rx="2.2" fill="url(#gG2)" opacity="0.85"/>
<rect x="612.55" y="233.25" width="10.3" height="10.3" rx="2.2" fill="url(#gB)" opacity="0.8"/>
<rect x="513.15" y="250.05" width="10.3" height="10.3" rx="2.2" fill="url(#gG2)" opacity="1"/>
<rect x="527.35" y="250.05" width="10.3" height="10.3" rx="2.2" fill="url(#gB)" opacity="0.75"/>
<rect x="541.55" y="250.05" width="10.3" height="10.3" rx="2.2" fill="url(#gG2)" opacity="0.85"/>
<rect x="555.75" y="250.05" width="10.3" height="10.3" rx="2.2" fill="url(#gG2)" opacity="0.7"/>
<rect x="569.95" y="250.05" width="10.3" height="10.3" rx="2.2" fill="url(#gG2)" opacity="0.9"/>
<rect x="584.15" y="250.05" width="10.3" height="10.3" rx="2.2" fill="url(#gG2)" opacity="0.95"/>
<rect x="598.35" y="250.05" width="10.3" height="10.3" rx="2.2" fill="url(#gB)" opacity="1"/>
<rect x="612.55" y="250.05" width="10.3" height="10.3" rx="2.2" fill="url(#gB)" opacity="1"/>
<rect x="513.15" y="267.45" width="10.3" height="10.3" rx="2.2" fill="url(#gG2)" opacity="1"/>
<rect x="527.35" y="267.45" width="10.3" height="10.3" rx="2.2" fill="url(#gB)" opacity="1"/>
<rect x="541.55" y="267.45" width="10.3" height="10.3" rx="2.2" fill="url(#gG2)" opacity="0.95"/>
<rect x="555.75" y="267.45" width="10.3" height="10.3" rx="2.2" fill="url(#gG2)" opacity="0.7"/>
<rect x="569.95" y="267.45" width="10.3" height="10.3" rx="2.2" fill="url(#gB)" opacity="0.75"/>
<rect x="584.15" y="267.45" width="10.3" height="10.3" rx="2.2" fill="url(#gB)" opacity="0.7"/>
<rect x="598.35" y="267.45" width="10.3" height="10.3" rx="2.2" fill="url(#gB)" opacity="0.9"/>
<rect x="612.55" y="267.45" width="10.3" height="10.3" rx="2.2" fill="url(#gG2)" opacity="0.9"/>
<rect x="513.15" y="283.45" width="10.3" height="10.3" rx="2.2" fill="url(#gG2)" opacity="0.8"/>
<rect x="527.35" y="283.45" width="10.3" height="10.3" rx="2.2" fill="url(#gB)" opacity="1"/>
<rect x="541.55" y="283.45" width="10.3" height="10.3" rx="2.2" fill="url(#gG2)" opacity="0.85"/>
<rect x="555.75" y="283.45" width="10.3" height="10.3" rx="2.2" fill="url(#gB)" opacity="1"/>
<rect x="569.95" y="283.45" width="10.3" height="10.3" rx="2.2" fill="url(#gG2)" opacity="0.85"/>
<rect x="584.15" y="283.45" width="10.3" height="10.3" rx="2.2" fill="url(#gG2)" opacity="1"/>
<rect x="598.35" y="283.45" width="10.3" height="10.3" rx="2.2" fill="url(#gG2)" opacity="0.95"/>
<rect x="612.55" y="283.45" width="10.3" height="10.3" rx="2.2" fill="url(#gG2)" opacity="0.8"/>
</g>
<rect class="bx" x="687.6" y="232.3" width="11.0" height="11.4"/>
<text class="t9b" text-anchor="middle" x="693.2" y="241.1" style="fill:#46a2da;stroke:#46a2da">U</text>
<rect class="bx" x="687.6" y="249.85" width="11.0" height="11.4"/>
<text class="t9b" text-anchor="middle" x="693.2" y="258.65" style="fill:#46a2da;stroke:#46a2da">C</text>
<rect class="bx" x="687.6" y="267.4" width="11.0" height="11.4"/>
<text class="t9b" text-anchor="middle" x="693.2" y="276.2" style="fill:#46a2da;stroke:#46a2da">N</text>
<rect class="bx" x="687.6" y="284.95" width="11.0" height="11.4"/>
<text class="t9b" text-anchor="middle" x="693.2" y="293.75" style="fill:#46a2da;stroke:#46a2da">P</text>
<text class="lbl" x="320.4" y="320.6">g</text>
<rect x="338.8" y="312" width="361.2" height="80.7" fill="#0b0b09"/>
<rect x="339.3" y="312.5" width="361.2" height="79.7" fill="none" stroke="#000" stroke-width="1"/>
<g filter="url(#blur2)">
<path d="M356,345 C359,338 366,335 372,336.5 C379,338.5 385,344 386,350 C387,357 383,363 379,366 C374,369 366,367 360,364 C354,360 353,352 356,345 Z" fill="#24503e" opacity="0.9"/>
<ellipse cx="365" cy="344.5" rx="8.5" ry="7" fill="#3a9aaa" opacity="0.85"/>
<path d="M359,342 C362,339 366,338 370,339 M360,347 C363,344 367,343 371,344" fill="none" stroke="#60bcc4" stroke-width="1.4" opacity="0.8"/>
<ellipse cx="374" cy="343" rx="5.5" ry="5" fill="#3c8a4c" opacity="0.9"/>
<path d="M356,357 C361,362 369,363.5 376,361 C381,359 384.5,354 384.5,347" fill="none" stroke="#6cc624" stroke-width="3.2" opacity="0.95"/>
<path d="M368,350 C374,349 379,345 380.5,339.5" fill="none" stroke="#5aae34" stroke-width="2.2" opacity="0.9"/>
<ellipse cx="364.3" cy="353.8" rx="5.6" ry="4.8" fill="#5a3ee4"/>
<ellipse cx="355.2" cy="358.5" rx="2.2" ry="2" fill="#5a62c8"/>
<path d="M371,362 C376,363 381,365 380,371 C377,373 373,371 372,367 Z" fill="#5e2214"/>
<ellipse cx="378" cy="364" rx="5" ry="3.2" fill="#561e12"/>
</g>
<g transform="translate(426.5,329)" fill="none" stroke-linecap="round" stroke-linejoin="round" stroke-width="0.95" opacity="1.0" filter="url(#blur3)">
<path d="M16,23 C12,22.5 8,21 6,18.5 C5,17 5.2,15.5 6.5,14.8 C6,13 6.5,11 8,10.2 C8.5,8.6 10,7.6 11.5,7.8 C12.5,6.6 14.5,6.2 15.8,7 C17.2,6.4 19,7 19.8,8.4 C21.5,8.8 22.6,10.4 22.4,12.2 C23.8,13 24.6,14.4 24.2,15.8 C23,19 20,21.8 16,23 Z M8,10.2 C10,12 11,14 11.5,17 M11.5,7.8 C13,9.5 13.8,12 13.8,15 M15.8,7 C16.5,9.5 17,12 16.5,15.5 M19.8,8.4 C19.5,11 19,13.5 18,16 M6.5,14.8 C9,15.5 11,17 12.5,19.5 M24.2,15.8 C21.5,16 19.5,17.5 18,20 M11.5,17 C13,18.5 15,19 17.8,17.5" stroke="#c42232"/>
<path d="M16,23 C16.5,26 14.5,28 13.5,30 C12.5,32 12,34 12.3,36.5" stroke="#c42232"/>
<g transform="translate(0,0) translate(12,30) scale(1) translate(-12,-30)">
<path d="M13.5,29 C19,28 27,28.5 32,30.5 C35,31.8 36.2,33.5 35.4,35.5 C34,39 29,42.5 22.5,43 C18,43.5 14,42 12.5,40 C11.6,37 12,33 13.5,29 Z M15,38 C19,35.8 23,35.2 27,36" stroke="#c42232"/>
<path d="M24.5,37 L23,32 M24.5,37 L29,34.5 M24.5,37 L28,41 M24.5,37 L22,41.5 M24.5,37 L18.5,37" stroke="#c42232" stroke-width="1.1"/>
</g>
</g>
<g transform="translate(500,328)" fill="none" stroke-linecap="round" stroke-linejoin="round" stroke-width="0.95" opacity="1.0" filter="url(#blur3)">
<path d="M16,23 C12,22.5 8,21 6,18.5 C5,17 5.2,15.5 6.5,14.8 C6,13 6.5,11 8,10.2 C8.5,8.6 10,7.6 11.5,7.8 C12.5,6.6 14.5,6.2 15.8,7 C17.2,6.4 19,7 19.8,8.4 C21.5,8.8 22.6,10.4 22.4,12.2 C23.8,13 24.6,14.4 24.2,15.8 C23,19 20,21.8 16,23 Z M8,10.2 C10,12 11,14 11.5,17 M11.5,7.8 C13,9.5 13.8,12 13.8,15 M15.8,7 C16.5,9.5 17,12 16.5,15.5 M19.8,8.4 C19.5,11 19,13.5 18,16 M6.5,14.8 C9,15.5 11,17 12.5,19.5 M24.2,15.8 C21.5,16 19.5,17.5 18,20 M11.5,17 C13,18.5 15,19 17.8,17.5" stroke="#da4444"/>
<path d="M16,23 C16.5,26 14.5,28 13.5,30 C12.5,32 12,34 12.3,36.5" stroke="#d64040"/>
<g transform="translate(0,0) translate(12,30) scale(1) translate(-12,-30)">
<path d="M13.5,29 C19,28 27,28.5 32,30.5 C35,31.8 36.2,33.5 35.4,35.5 C34,39 29,42.5 22.5,43 C18,43.5 14,42 12.5,40 C11.6,37 12,33 13.5,29 Z M15,38 C19,35.8 23,35.2 27,36" stroke="#d64040"/>
<path d="M24.5,37 L23,32 M24.5,37 L29,34.5 M24.5,37 L28,41 M24.5,37 L22,41.5 M24.5,37 L18.5,37" stroke="#d64040" stroke-width="1.1"/>
</g>
</g>
<g transform="translate(572.5,327.1)" fill="none" stroke-linecap="round" stroke-linejoin="round" stroke-width="0.95" opacity="1.0" filter="url(#blur3)">
<path d="M16,23 C12,22.5 8,21 6,18.5 C5,17 5.2,15.5 6.5,14.8 C6,13 6.5,11 8,10.2 C8.5,8.6 10,7.6 11.5,7.8 C12.5,6.6 14.5,6.2 15.8,7 C17.2,6.4 19,7 19.8,8.4 C21.5,8.8 22.6,10.4 22.4,12.2 C23.8,13 24.6,14.4 24.2,15.8 C23,19 20,21.8 16,23 Z M8,10.2 C10,12 11,14 11.5,17 M11.5,7.8 C13,9.5 13.8,12 13.8,15 M15.8,7 C16.5,9.5 17,12 16.5,15.5 M19.8,8.4 C19.5,11 19,13.5 18,16 M6.5,14.8 C9,15.5 11,17 12.5,19.5 M24.2,15.8 C21.5,16 19.5,17.5 18,20 M11.5,17 C13,18.5 15,19 17.8,17.5" stroke="#e04c7c"/>
<path d="M16,23 C16.5,26 14.5,28 13.5,30 C12.5,32 12,34 12.3,36.5" stroke="#7a4046"/>
<g transform="translate(0,0) translate(12,30) scale(1) translate(-12,-30)">
<path d="M13.5,29 C19,28 27,28.5 32,30.5 C35,31.8 36.2,33.5 35.4,35.5 C34,39 29,42.5 22.5,43 C18,43.5 14,42 12.5,40 C11.6,37 12,33 13.5,29 Z M15,38 C19,35.8 23,35.2 27,36" stroke="#7a4046"/>
<path d="M24.5,37 L23,32 M24.5,37 L29,34.5 M24.5,37 L28,41 M24.5,37 L22,41.5 M24.5,37 L18.5,37" stroke="#864850" stroke-width="1.1"/>
</g>
</g>
<rect x="651" y="331" width="27" height="43" fill="#10101e"/>
<g transform="translate(648.1,325)" fill="none" stroke-linecap="round" stroke-linejoin="round" stroke-width="0.95" opacity="1.0" filter="url(#blur3)">
<path d="M16,23 C12,22.5 8,21 6,18.5 C5,17 5.2,15.5 6.5,14.8 C6,13 6.5,11 8,10.2 C8.5,8.6 10,7.6 11.5,7.8 C12.5,6.6 14.5,6.2 15.8,7 C17.2,6.4 19,7 19.8,8.4 C21.5,8.8 22.6,10.4 22.4,12.2 C23.8,13 24.6,14.4 24.2,15.8 C23,19 20,21.8 16,23 Z M8,10.2 C10,12 11,14 11.5,17 M11.5,7.8 C13,9.5 13.8,12 13.8,15 M15.8,7 C16.5,9.5 17,12 16.5,15.5 M19.8,8.4 C19.5,11 19,13.5 18,16 M6.5,14.8 C9,15.5 11,17 12.5,19.5 M24.2,15.8 C21.5,16 19.5,17.5 18,20 M11.5,17 C13,18.5 15,19 17.8,17.5" stroke="#c848a8"/>
<path d="M16,23 C16.5,26 14.5,28 13.5,30 C12.5,32 12,34 12.3,36.5" stroke="#8e8480"/>
<g transform="translate(0.8,0) translate(12,30) scale(1.12) translate(-12,-30)">
<path d="M13.5,29 C19,28 27,28.5 32,30.5 C35,31.8 36.2,33.5 35.4,35.5 C34,39 29,42.5 22.5,43 C18,43.5 14,42 12.5,40 C11.6,37 12,33 13.5,29 Z M15,38 C19,35.8 23,35.2 27,36" stroke="#8e8480"/>
<path d="M24.5,37 L23,32 M24.5,37 L29,34.5 M24.5,37 L28,41 M24.5,37 L22,41.5 M24.5,37 L18.5,37" stroke="#7c7c38" stroke-width="1.1"/>
</g>
</g>
<text class="tw" x="558.3" y="322.5">c.w. 808 nm (flower)</text>
<text class="tw" x="352.8" y="387.2">980 nm</text>
<text class="tw" x="430.8" y="387.2">1530 nm</text>
<text class="tw" x="545.6" y="387.6">pulse-tunable 808 nm (leaf)</text>
</svg>
</body></html>
